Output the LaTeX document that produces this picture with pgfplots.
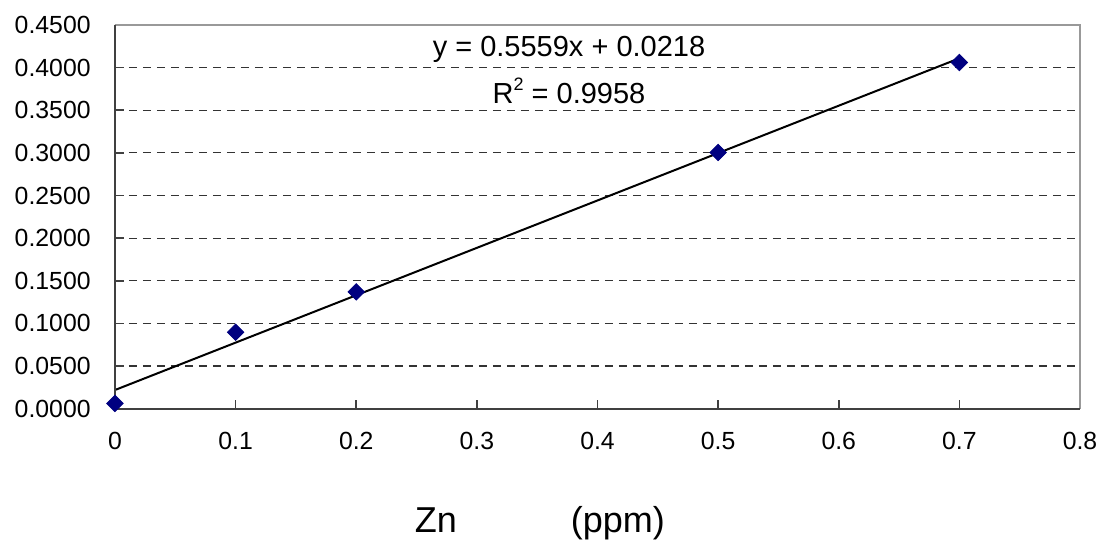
\documentclass[border=0pt]{standalone}
\usepackage{pgfplots}
\pgfplotsset{compat=1.18}
\usepackage{fontspec}
\setmainfont{Liberation Sans}
\definecolor{navy}{HTML}{000080}
\begin{document}
\begin{tikzpicture}
\path[use as bounding box] (-57.5pt,-65.7pt) rectangle (492.5pt,204.3pt);
\begin{axis}[
  at={(0,0)}, anchor=south west,
  scale only axis, width=482.5pt, height=191.8pt,
  xmin=0, xmax=0.8, ymin=0, ymax=0.45,
  xtick={0,0.1,...,0.8}, ytick={0,0.05,...,0.45},
  axis line style={draw=none},
  tick align=inside, xtick pos=bottom, ytick pos=left,
  major tick length=4.5pt,
  tick style={draw=black!75, line width=0.8pt},
  ymajorgrids, major grid style={draw=black!80, line width=0.55pt, dash pattern=on 4pt off 3pt},
  /pgf/number format/assume math mode=true,
  yticklabel={\pgfmathprintnumber[fixed,fixed zerofill,precision=4]{\tick}},
  xticklabel={\pgfmathprintnumber[fixed]{\tick}},
  ticklabel style={font=\fontsize{12.4}{15}\selectfont},
  yticklabel style={inner sep=0pt, anchor=east, xshift=-12pt},
  xticklabel style={inner sep=0pt, anchor=base, yshift=-20.6pt},
  clip=false,
]
\addplot[black, line width=1pt, no marks] coordinates {(0,0.0218) (0.7,0.41093)};
\addplot[only marks, mark=square*, mark size=2.9pt, mark options={rotate=45, fill=navy, draw=navy}] coordinates {
(0,0.0060) (0.1,0.0896) (0.2,0.1370) (0.5,0.3005) (0.7,0.4060)};
\draw[black!40, line width=1pt] (rel axis cs:0,1) -- (rel axis cs:1,1) -- (rel axis cs:1,0);
\draw[black!75, line width=1pt] (rel axis cs:0,1) -- (rel axis cs:0,0) -- (rel axis cs:1,0);
\node[anchor=base, inner sep=0pt, font=\fontsize{14.5}{17}\selectfont] at (axis cs:0.3764,0.4125) {y = 0.5559x + 0.0218};
\node[anchor=base, inner sep=0pt, font=\fontsize{14.5}{17}\selectfont] at (axis cs:0.3764,0.358) {R\raisebox{0.45em}{\fontsize{9}{10}\selectfont 2} = 0.9958};
\node[anchor=base, inner sep=0pt, font=\fontsize{18}{21}\selectfont] at (axis description cs:0.4404,-0.324) {Zn\hspace{57pt}(ppm)};
\end{axis}
\end{tikzpicture}
\end{document}
